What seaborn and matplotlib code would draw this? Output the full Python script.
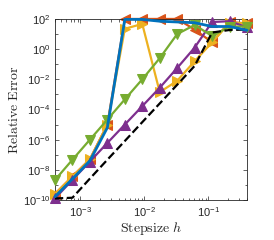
import numpy as np
import pandas as pd
import seaborn as sns
import matplotlib.pyplot as plt
from matplotlib.ticker import LogLocator, NullFormatter, FixedLocator

# step sizes (12 points, about 4e-4 .. 0.4)
stepsize = [4.0e-4, 7.495e-4, 1.4045e-3, 2.6318e-3, 4.9315e-3, 9.241e-3,
            1.7316e-2, 3.2447e-2, 6.080e-2, 1.1393e-1, 2.1348e-1, 4.0e-1]

# log10 of the relative error
log_orange = [-9.6, -8.44, -7.3, -5.0, 2.0, 2.0, 2.0, 2.0, 1.3, 0.45, 1.8, 1.7]
log_yellow = [-9.6, -8.44, -7.3, -5.0, 1.35, 1.67, -2.85, -2.1, -0.8, 0.45, 1.75, 1.7]
log_purple = [-9.89, -8.67, -7.45, -6.22, -5.0, -3.78, -2.56, -1.25, 0.1, 1.8, 1.85, 1.45]
log_green = [-8.67, -7.33, -6.0, -4.67, -3.33, -2.0, -0.6, 1.0, 1.6, 0.87, 1.5, 1.5]
log_blue = [-9.78, -8.6, -7.4, -5.2, 1.97, 1.97, 1.85, 1.8, 1.75, 1.5, 1.5, 1.25]
log_ref = [-9.9, -9.85, -8.58, -7.33, -6.09, -4.84, -3.6, -2.36, -1.11, 1.1, 1.27, 1.3]

series = {
    'orange': log_orange,
    'yellow': log_yellow,
    'purple': log_purple,
    'green': log_green,
    'ref': log_ref,
    'blue': log_blue,
}
rows = []
for name, vals in series.items():
    for h, v in zip(stepsize, vals):
        rows.append({'h': h, 'err': 10.0 ** v, 'method': name})
df = pd.DataFrame(rows)

# style per series: color, marker, linestyle
styles = {
    'orange': ('#D95319', '<', '-'),
    'yellow': ('#EDB120', '>', '-'),
    'purple': ('#7E2F8E', '^', '-'),
    'green': ('#77AC30', 'v', '-'),
    'ref': ('black', None, '--'),
    'blue': ('#0072BD', None, '-'),
}

sns.set_style('ticks')
plt.rcParams['font.family'] = ['Liberation Sans', 'DejaVu Sans']
plt.rcParams['mathtext.fontset'] = 'cm'

fig = plt.figure(figsize=(2.74, 2.40), dpi=100)
ax = fig.add_axes([0.2007, 0.1667, 0.7008, 0.7543])

for z, (name, (col, mk, ls)) in enumerate(styles.items()):
    sub = df[df['method'] == name]
    lw = 2.0 if name == 'blue' else 1.6
    sns.lineplot(data=sub, x='h', y='err', ax=ax, color=col, linestyle=ls,
                 linewidth=lw, marker=mk, markersize=6.5, markeredgecolor=col,
                 sort=False, estimator=None, legend=False, zorder=2 + z,
                 clip_on=False)

ax.set_xscale('log')
ax.set_yscale('log')
ax.set_xlim(4.0e-4, 4.0e-1)
ax.set_ylim(1e-10, 1e2)
ax.yaxis.set_major_locator(FixedLocator([1e-10, 1e-8, 1e-6, 1e-4, 1e-2, 1e0, 1e2]))
ax.yaxis.set_minor_locator(FixedLocator([1e-9, 1e-7, 1e-5, 1e-3, 1e-1, 1e1]))
ax.yaxis.set_minor_formatter(NullFormatter())
ax.xaxis.set_minor_locator(LogLocator(base=10, subs=np.arange(2, 10), numticks=20))
ax.xaxis.set_minor_formatter(NullFormatter())

ax.tick_params(which='both', direction='in', top=True, right=True,
               labelsize=8, colors='#262626', width=0.5)
ax.tick_params(which='major', length=3)
ax.tick_params(which='minor', length=1.8)
for sp in ax.spines.values():
    sp.set_linewidth(0.6)
    sp.set_color('#262626')

ax.set_xlabel(r'$\mathrm{Stepsize}\ h$', fontsize=10, labelpad=1, color='#262626')
ax.set_ylabel(r'$\mathrm{Relative\ Error}$', fontsize=10, labelpad=1, color='#262626')

fig.savefig('out.png', dpi=100)
